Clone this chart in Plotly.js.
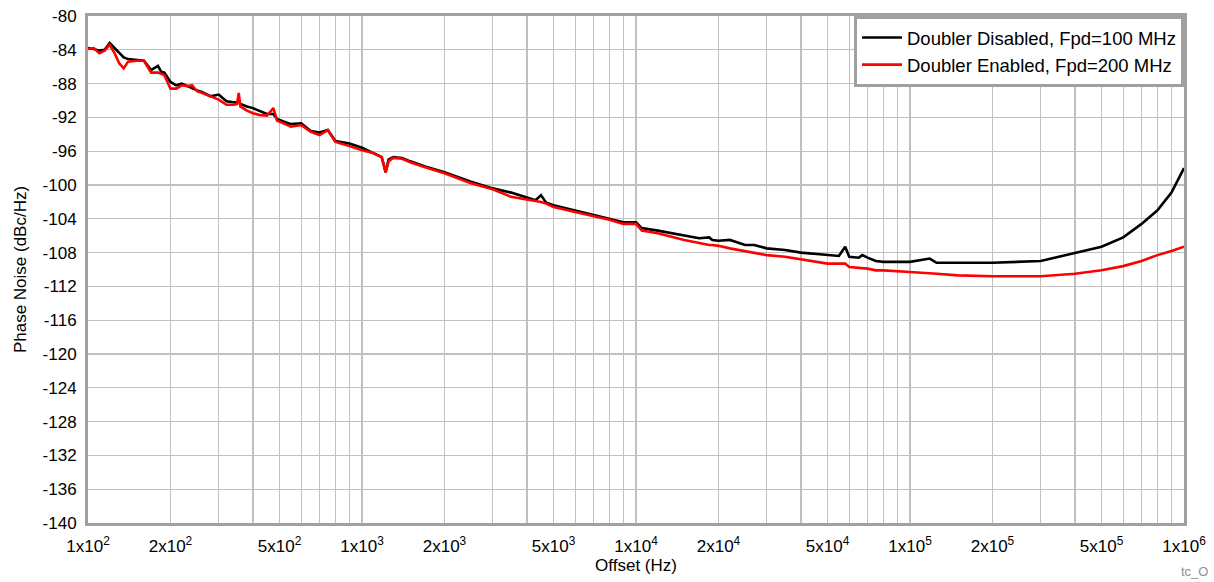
<!DOCTYPE html>
<html>
<head>
<meta charset="utf-8">
<script src="https://cdn.plot.ly/plotly-3.0.1.min.js"></script>
<style>html,body{margin:0;padding:0;background:#fff;}#chart{width:1214px;height:582px;}</style>
</head>
<body>
<div id="chart"></div>
<script>
const offsetHz = [100,105,110,115,120,125,130,135,140,150,
  160,170,180,185,190,200,210,220,230,240,
  250,260,280,300,320,340,350,355,360,380,
  400,420,450,475,490,500,550,600,650,700,
  750,800,900,1000,1100,1180,1200,1220,1250,1300,
  1400,1500,1700,2000,2500,3000,3500,4000,4300,4500,
  4700,5000,6000,7000,8000,9000,10000,10500,12000,15000,
  17000,18500,19000,20000,22000,25000,27000,30000,35000,40000,
  50000,55000,58000,60000,65000,67000,70000,75000,80000,100000,
  118000,125000,150000,200000,300000,400000,500000,600000,700000,800000,
  900000,1000000];

const doublerDisabled = [-83.8,-83.9,-84.1,-84.0,-83.2,-83.8,-84.4,-84.9,-85.1,-85.2,
  -85.3,-86.4,-85.9,-86.6,-86.7,-87.8,-88.2,-88.0,-88.3,-88.5,
  -88.8,-89.0,-89.5,-89.3,-90.1,-90.2,-90.2,-90.1,-90.4,-90.7,
  -90.9,-91.2,-91.6,-91.6,-92.2,-92.3,-92.8,-92.7,-93.6,-93.8,
  -93.5,-94.8,-95.1,-95.6,-96.2,-96.7,-97.6,-98.5,-97.0,-96.7,
  -96.8,-97.2,-97.8,-98.5,-99.6,-100.4,-100.9,-101.5,-101.8,-101.2,
  -102.1,-102.4,-103.0,-103.5,-104.0,-104.4,-104.4,-105.1,-105.4,-106.0,
  -106.3,-106.2,-106.5,-106.6,-106.5,-107.1,-107.1,-107.5,-107.7,-108.0,
  -108.3,-108.4,-107.3,-108.5,-108.6,-108.3,-108.6,-109.0,-109.1,-109.1,
  -108.7,-109.2,-109.2,-109.2,-109.0,-108.0,-107.3,-106.2,-104.6,-103.0,
  -100.9,-98.0];

const doublerEnabled = [-83.9,-83.8,-84.4,-84.1,-83.4,-84.4,-85.6,-86.2,-85.4,-85.3,
  -85.3,-86.7,-86.7,-86.9,-87.0,-88.6,-88.6,-88.2,-88.3,-88.2,
  -88.9,-89.1,-89.5,-89.9,-90.5,-90.5,-90.4,-89.1,-90.7,-91.2,
  -91.5,-91.7,-91.8,-90.9,-92.4,-92.5,-93.1,-92.9,-93.7,-94.1,
  -93.5,-94.9,-95.4,-95.9,-96.2,-96.7,-97.6,-98.5,-97.2,-96.8,
  -96.9,-97.3,-97.9,-98.6,-99.8,-100.5,-101.4,-101.7,-101.9,-102.0,
  -102.2,-102.6,-103.2,-103.7,-104.1,-104.6,-104.6,-105.4,-105.7,-106.5,
  -106.9,-107.1,-107.1,-107.2,-107.5,-107.8,-108.0,-108.3,-108.5,-108.8,
  -109.3,-109.3,-109.3,-109.7,-109.8,-109.8,-109.9,-110.1,-110.1,-110.3,
  -110.4,-110.5,-110.7,-110.8,-110.8,-110.5,-110.1,-109.6,-109.0,-108.3,
  -107.8,-107.3];

const seriesNames = ["Doubler Disabled, Fpd=100 MHz", "Doubler Enabled, Fpd=200 MHz"];

const xGridVals = [100,200,300,400,500,600,700,800,900,
  1000,2000,3000,4000,5000,6000,7000,8000,9000,
  10000,20000,30000,40000,50000,60000,70000,80000,90000,
  100000,200000,300000,400000,500000,600000,700000,800000,900000,1000000];
const xLabelMap = {
  100:"1x10<sup>2</sup>",200:"2x10<sup>2</sup>",500:"5x10<sup>2</sup>",
  1000:"1x10<sup>3</sup>",2000:"2x10<sup>3</sup>",5000:"5x10<sup>3</sup>",
  10000:"1x10<sup>4</sup>",20000:"2x10<sup>4</sup>",50000:"5x10<sup>4</sup>",
  100000:"1x10<sup>5</sup>",200000:"2x10<sup>5</sup>",500000:"5x10<sup>5</sup>",
  1000000:"1x10<sup>6</sup>"};
const xTickText = xGridVals.map(v => xLabelMap[v] || "");

const yTickVals = [-140,-136,-132,-128,-124,-120,-116,-112,-108,-104,-100,-96,-92,-88,-84,-80];
const yTickText = ["-140","-136","-132","-128","-124","-120","-116","-112","-108","-104","-100","-96","-92","-88","-84","-80"];

const font = "Liberation Sans, Arial, sans-serif";
const fs = 17;

const traces = [
  {x: offsetHz, y: doublerDisabled, name: seriesNames[0], type: "scatter", mode: "lines",
   line: {color: "#000000", width: 2.6}},
  {x: offsetHz, y: doublerEnabled, name: seriesNames[1], type: "scatter", mode: "lines",
   line: {color: "#ff0000", width: 2.6}}
];

const layout = {
  width: 1214, height: 582,
  margin: {l: 88, r: 30, t: 16, b: 59},
  paper_bgcolor: "#ffffff", plot_bgcolor: "#ffffff",
  font: {family: font, size: fs, color: "#000"},
  showlegend: true,
  legend: {x: 1, y: 1, xanchor: "right", yanchor: "top", bgcolor: "#ffffff",
    bordercolor: "#a0a0a0", borderwidth: 3, font: {family: font, size: 18.5, color: "#000"},
    tracegroupgap: 0, itemwidth: 40},
  xaxis: {type: "log", range: [2, 6], tickvals: xGridVals, ticktext: xTickText,
    showgrid: true, gridcolor: "#c0c0c0", gridwidth: 1.2,
    showline: true, linecolor: "#a0a0a0", linewidth: 3, mirror: true,
    ticks: "", zeroline: false, ticklabelstandoff: 6,
    tickfont: {family: font, size: fs, color: "#000"},
    title: {text: "Offset (Hz)", font: {family: font, size: fs, color: "#000"}, standoff: 4}},
  yaxis: {range: [-140, -80], tickvals: yTickVals, ticktext: yTickText,
    showgrid: true, gridcolor: "#c0c0c0", gridwidth: 1.2,
    showline: true, linecolor: "#a0a0a0", linewidth: 3, mirror: true,
    ticks: "", zeroline: false, ticklabelstandoff: 5,
    tickfont: {family: font, size: fs, color: "#000"},
    title: {text: "Phase Noise (dBc/Hz)", font: {family: font, size: fs, color: "#000"}, standoff: 12}},
  annotations: [{text: "tc_O", xref: "paper", yref: "paper", x: 1.0237, y: -0.096,
    xanchor: "right", yanchor: "middle", showarrow: false,
    font: {family: font, size: 13, color: "#909090"}}]
};

Plotly.newPlot("chart", traces, layout, {displayModeBar: false, staticPlot: true});
</script>
</body>
</html>
